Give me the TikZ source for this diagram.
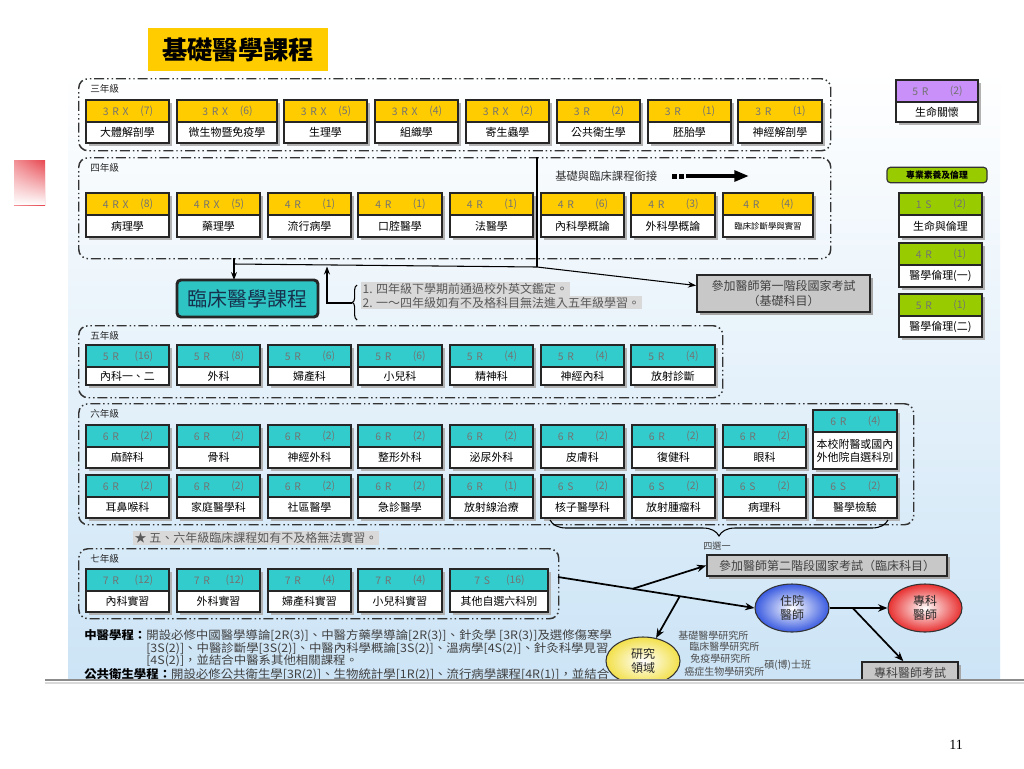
\documentclass[tikz,border=0pt]{standalone}
\usepackage{fontspec}
\setmainfont{Noto Sans CJK TC}
\newfontfamily\numfont{Liberation Serif}
\usetikzlibrary{arrows.meta,decorations.pathreplacing,shapes.geometric,calc,fadings}
\definecolor{cyel}{HTML}{FFCC00}
\definecolor{ccyan}{HTML}{33CCCC}
\definecolor{cpur}{HTML}{C890F8}
\definecolor{cgrn}{HTML}{99CC00}
\definecolor{panelbot}{HTML}{CCE4F6}
\definecolor{clinbg}{HTML}{2EC4C4}
\definecolor{navy}{HTML}{17324D}
\definecolor{hl}{HTML}{D9D9D9}
\definecolor{examg}{HTML}{C8C8C8}
\definecolor{pinkr}{HTML}{E8464F}
\definecolor{resblue}{HTML}{3A5BE0}
\definecolor{specred}{HTML}{E83030}
\definecolor{resyel}{HTML}{F2E04A}
\newcommand{\gp}{\hspace{2.8pt}}
% course box: name, left, top, width, total height, colour, code, count, title
\newcommand{\cbox}[9]{%
  \fill[black!30] ({#2+3},{#3+3}) rectangle ({#2+#4+3},{#3+#5+3});
  \node[cellhead, fill=#6, minimum width={#4*0.75pt}] (#1h) at ({#2+#4/2},{#3+11}) {};
  \node[cellbody, minimum width={#4*0.75pt}, minimum height={(#5-22)*0.75pt}] (#1) at ({#2+#4/2},{#3+22+(#5-22)/2}) {#9};
  \node[codet, anchor=west] (#1c) at ({#2+#4/2-25},{#3+11.5}) {#7};
  \node[codet, anchor=east] (#1n) at ({#2+#4/2+26},{#3+11.5}) {#8};
}
% group frame: name, x1, y1, x2, y2, label
\newcommand{\grpbox}[6]{%
  \node[grpst, minimum width={(#4-#2)*0.75pt}, minimum height={(#5-#3)*0.75pt}, anchor=north west] (#1) at (#2,#3) {};
  \node[glabel] (#1l) at ({#2+12},{#3+11}) {#6};
}
\begin{document}
\begin{tikzpicture}[x=0.75pt,y=-0.75pt,
  cellhead/.style={draw=black!85, line width=0.8pt, inner sep=0pt, minimum height=16.5pt},
  cellbody/.style={draw=black!85, line width=0.8pt, fill=white, inner sep=0pt, align=center, font=\fontsize{8.2}{9.8}\selectfont},
  codet/.style={inner sep=0pt, font=\fontsize{7.8}{9}\selectfont, text=black!55},
  grpst/.style={draw=black!80, line width=1.1pt, rounded corners=7pt, dash pattern=on 7.5pt off 2.2pt on 1.1pt off 2.2pt on 1.1pt off 2.2pt, inner sep=0pt},
  glabel/.style={anchor=west, inner sep=0pt, font=\fontsize{7.2}{8}\selectfont, text=black!85},
  note/.style={anchor=west, fill=hl, inner sep=1pt, font=\fontsize{9}{10}\selectfont, text=black!65},
  exam/.style={draw=black!85, line width=1.5pt, fill=examg, align=center, inner sep=0pt, font=\fontsize{9}{11}\selectfont, text=black!75},
  arr/.style={line width=1.3pt, -{Stealth[length=7pt,width=5.5pt]}},
  conn/.style={line width=0.8pt},
  oval/.style={ellipse, draw=black!80, line width=0.8pt, inner sep=0pt, minimum width=55.5pt, minimum height=36pt, align=center, font=\fontsize{9}{11}\selectfont, text=black!85},
  btext/.style={anchor=west, inner sep=0pt, transform shape, xscale=1.07, font=\fontsize{8.7}{10}\selectfont, text=black!75},
  rlist/.style={anchor=west, inner sep=0pt, font=\fontsize{7.5}{9}\selectfont, text=black!70}
]
\useasboundingbox (0,0) rectangle (1024,768);
\fill[white] (0,0) rectangle (1024,768);

% pink decoration
\shade[left color=pinkr!60!white, right color=pinkr] (14,160) rectangle (45,205);
\fill[white, path fading=north] (14,160) rectangle (45,205);

\begin{scope}
\clip (0,0) rectangle (1024,679.5);
% panel background
\shade[top color=white, bottom color=panelbot] (68,72) rectangle (1000,680);

% title
\node[fill=cyel, minimum width=135pt, minimum height=32pt, inner sep=0pt, font=\fontsize{19}{21}\selectfont\bfseries] (title) at (238,49.5) {基礎醫學課程};

% groups
\grpbox{g3}{78}{78}{830}{150}{三年級}
\grpbox{g4}{78}{157}{830}{258}{四年級}
\grpbox{g5}{78}{325}{722}{397}{五年級}
\grpbox{g6}{78}{403}{913}{524}{六年級}
\grpbox{g7}{78}{548}{558}{618}{七年級}

% third year
\cbox{a1}{86}{100}{83}{43}{cyel}{3\gp R\gp X}{(7)}{大體解剖學}
\cbox{a2}{177}{100}{100}{43}{cyel}{3\gp R\gp X}{(6)}{微生物暨免疫學}
\cbox{a3}{284}{100}{83}{43}{cyel}{3\gp R\gp X}{(5)}{生理學}
\cbox{a4}{375}{100}{83}{43}{cyel}{3\gp R\gp X}{(4)}{組織學}
\cbox{a5}{466}{100}{83}{43}{cyel}{3\gp R\gp X}{(2)}{寄生蟲學}
\cbox{a6}{557}{100}{83}{43}{cyel}{3\gp R}{(2)}{公共衛生學}
\cbox{a7}{648}{100}{83}{43}{cyel}{3\gp R}{(1)}{胚胎學}
\cbox{a8}{738}{100}{84}{43}{cyel}{3\gp R}{(1)}{神經解剖學}

% fourth year
\node[anchor=west, inner sep=0pt, font=\fontsize{8.5}{10}\selectfont, text=black!80] (link) at (555,176) {基礎與臨床課程銜接};
\fill[black] (672,173.5) rectangle (677,178.5);
\fill[black] (679,173.5) rectangle (684,178.5);
\coordinate (lnkS) at (686,176);
\coordinate (lnkE) at (749,176);
\draw[line width=3pt, -{Triangle[length=11pt,width=8pt]}] (lnkS) -- (lnkE);

\cbox{b1}{86}{193}{83}{44}{cyel}{4\gp R\gp X}{(8)}{病理學}
\cbox{b2}{177}{193}{83}{44}{cyel}{4\gp R\gp X}{(5)}{藥理學}
\cbox{b3}{268}{193}{83}{44}{cyel}{4\gp R}{(1)}{流行病學}
\cbox{b4}{358}{193}{84}{44}{cyel}{4\gp R}{(1)}{口腔醫學}
\cbox{b5}{450}{193}{83}{44}{cyel}{4\gp R}{(1)}{法醫學}
\cbox{b6}{541}{193}{83}{44}{cyel}{4\gp R}{(6)}{內科學概論}
\cbox{b7}{631}{193}{84}{44}{cyel}{4\gp R}{(3)}{外科學概論}
\cbox{b8}{723}{193}{90}{44}{cyel}{4\gp R}{(4)}{\fontsize{6.3}{7}\selectfont 臨床診斷學與實習}

% connectors from the fourth year
\coordinate (jt) at (537,157);
\coordinate (jb) at (537,267);
\coordinate (jl) at (234,264);
\coordinate (gl) at (234,258);
\coordinate (cl) at (234,280);
\draw[conn] (jt) -- (jb);
\fill[black!35] (700,278) rectangle (873,315);
\node[exam, minimum width=129.75pt, minimum height=27.75pt] (exam1) at (783.5,293.5) {參加醫師第一階段國家考試\\（基礎科目）};
\draw[conn, -{Stealth[length=6pt,width=4.5pt]}] (jl) -- (jb) -- ([yshift=6pt]exam1.west);
\draw[conn, -{Stealth[length=6pt,width=4.5pt]}] (gl) -- (cl);

% clinical course title
\node[fill=clinbg, draw=black!85, line width=2.2pt, rounded corners=3pt, minimum width=105.75pt, minimum height=27.75pt, inner sep=0pt, font=\fontsize{15}{17}\selectfont, text=navy] (clin) at (247.5,298.5) {臨床醫學課程};

% notes
\node[note] (n1) at (361,289) {1. 四年級下學期前通過校外英文鑑定。};
\node[note] (n2) at (361,302.5) {2. 一～四年級如有不及格科目無法進入五年級學習。};
\draw[conn, decorate, decoration={brace, amplitude=3.5pt}] (357,320) -- (357,285);
\coordinate (bt) at (352,303);
\coordinate (up) at (327,266.5);
\draw[conn, -{Stealth[length=6pt,width=4.5pt]}] (bt) -| (up);

% fifth year
\cbox{c1}{86}{345}{83}{40}{ccyan}{5\gp R}{(16)}{內科一、二}
\cbox{c2}{177}{345}{83}{40}{ccyan}{5\gp R}{(8)}{外科}
\cbox{c3}{268}{345}{83}{40}{ccyan}{5\gp R}{(6)}{婦產科}
\cbox{c4}{358}{345}{84}{40}{ccyan}{5\gp R}{(6)}{小兒科}
\cbox{c5}{450}{345}{83}{40}{ccyan}{5\gp R}{(4)}{精神科}
\cbox{c6}{541}{345}{83}{40}{ccyan}{5\gp R}{(4)}{神經內科}
\cbox{c7}{631}{345}{84}{40}{ccyan}{5\gp R}{(4)}{放射診斷}

% sixth year
\cbox{d1}{86}{425}{83}{43}{ccyan}{6\gp R}{(2)}{麻醉科}
\cbox{d2}{177}{425}{83}{43}{ccyan}{6\gp R}{(2)}{骨科}
\cbox{d3}{268}{425}{83}{43}{ccyan}{6\gp R}{(2)}{神經外科}
\cbox{d4}{358}{425}{84}{43}{ccyan}{6\gp R}{(2)}{整形外科}
\cbox{d5}{450}{425}{83}{43}{ccyan}{6\gp R}{(2)}{泌尿外科}
\cbox{d6}{541}{425}{83}{43}{ccyan}{6\gp R}{(2)}{皮膚科}
\cbox{d7}{632}{425}{83}{43}{ccyan}{6\gp R}{(2)}{復健科}
\cbox{d8}{723}{425}{83}{43}{ccyan}{6\gp R}{(2)}{眼科}
\cbox{d9}{813}{410}{84}{59}{ccyan}{6\gp R}{(4)}{本校附醫或國內\\外他院自選科別}
\cbox{e1}{86}{475}{83}{43}{ccyan}{6\gp R}{(2)}{耳鼻喉科}
\cbox{e2}{177}{475}{83}{43}{ccyan}{6\gp R}{(2)}{家庭醫學科}
\cbox{e3}{268}{475}{83}{43}{ccyan}{6\gp R}{(2)}{社區醫學}
\cbox{e4}{358}{475}{84}{43}{ccyan}{6\gp R}{(2)}{急診醫學}
\cbox{e5}{450}{475}{83}{43}{ccyan}{6\gp R}{(1)}{放射線治療}
\cbox{e6}{541}{475}{83}{43}{ccyan}{6\gp S}{(2)}{核子醫學科}
\cbox{e7}{632}{475}{83}{43}{ccyan}{6\gp S}{(2)}{放射腫瘤科}
\cbox{e8}{723}{475}{83}{43}{ccyan}{6\gp S}{(2)}{病理科}
\cbox{e9}{813}{475}{84}{43}{ccyan}{6\gp S}{(2)}{醫學檢驗}

\draw[conn, decorate, decoration={brace, amplitude=12pt}] (888,520) -- (550,520);
\node[inner sep=0pt, font=\fontsize{6.8}{8}\selectfont, text=black!75] (pick) at (717,546) {四選一};
\node[note, font=\fontsize{9}{10}\selectfont] (star) at (133,538) {★ 五、六年級臨床課程如有不及格無法實習。};

% seventh year
\cbox{f1}{86}{569}{83}{43}{ccyan}{7\gp R}{(12)}{內科實習}
\cbox{f2}{177}{569}{83}{43}{ccyan}{7\gp R}{(12)}{外科實習}
\cbox{f3}{268}{569}{83}{43}{ccyan}{7\gp R}{(4)}{婦產科實習}
\cbox{f4}{358}{569}{84}{43}{ccyan}{7\gp R}{(4)}{小兒科實習}
\cbox{f5}{450}{569}{98}{43}{ccyan}{7\gp S}{(16)}{其他自選六科別}

% right column
\cbox{r1}{896}{80}{82}{42}{cpur}{5\gp R}{(2)}{生命關懷}
\node[draw=black!80, fill=cgrn, line width=0.9pt, rounded corners=2.5pt, minimum width=75pt, minimum height=11.5pt, inner sep=0pt, font=\fontsize{6.6}{8}\selectfont\bfseries] (ghead) at (937,175) {專業素養及倫理};
\cbox{r2}{899}{193}{83}{44}{cgrn}{1\gp S}{(2)}{生命與倫理}
\cbox{r3}{899}{243}{83}{44}{cgrn}{4\gp R}{(1)}{醫學倫理(一)}
\cbox{r4}{899}{294}{83}{43}{cgrn}{5\gp R}{(1)}{醫學倫理(二)}

% bottom text
\node[btext] (t1) at (84,636) {{\bfseries\color{black}中醫學程：}開設必修中國醫學導論[2R(3)]、中醫方藥學導論[2R(3)]、針灸學 [3R(3)]及選修傷寒學};
\node[btext] (t2) at (146,648.5) {[3S(2)]、中醫診斷學[3S(2)]、中醫內科學概論[3S(2)]、溫病學[4S(2)]、針灸科學見習};
\node[btext] (t3) at (146,661) {[4S(2)]，並結合中醫系其他相關課程。};
\node[btext] (t4) at (84,675) {{\bfseries\color{black}公共衛生學程：}開設必修公共衛生學[3R(2)]、生物統計學[1R(2)]、流行病學課程[4R(1)]，並結合};

% career paths
\fill[black!35] (709,557) rectangle (950,579);
\node[exam, line width=1.3pt, minimum width=180pt, minimum height=15.75pt] (exam2) at (827,565.5) {參加醫師第二階段國家考試（臨床科目）};
\node[oval, shade, inner color=white, outer color=resblue] (resid) at (792,608) {住院\\醫師};
\node[oval, shade, inner color=white, outer color=specred] (spec) at (925,608) {專科\\醫師};
\node[oval, shade, inner color=white, outer color=resyel] (research) at (643,661) {研究\\領域};
\fill[black!35] (865,665) rectangle (961,690);
\node[exam, line width=1.3pt, minimum width=72pt, minimum height=16.5pt] (specexam) at (910,673) {專科醫師考試};

\coordinate (m0) at (558,577);
\coordinate (p1) at ($(m0)!0.38!(resid.west)$);
\coordinate (p2) at ($(m0)!0.62!(resid.west)$);
\coordinate (p3) at ($(resid.east)!0.4!(spec.west)$);
\draw[arr] (m0) -- (resid.west);
\draw[arr] (p1) -- (exam2.west);
\draw[arr] (p2) -- (research);
\draw[arr] (resid.east) -- (spec.west);
\draw[arr] (p3) -- ([xshift=-5pt]specexam.north);

\node[rlist] (l1) at (678,636) {基礎醫學研究所};
\node[rlist] (l2) at (689,647) {臨床醫學研究所};
\node[rlist] (l3) at (690,659) {免疫學研究所};
\node[rlist] (l4) at (684,672) {癌症生物學研究所};
\node[rlist] (l5) at (764,665) {碩(博)士班};
\end{scope}

% bottom rule and page number
\draw[black!15, line width=1.5pt] (45,682.5) -- (1024,682.5);
\draw[black!45, line width=1.2pt] (45,680) -- (1024,680);
\node[inner sep=0pt, font=\numfont\fontsize{10.5}{12}\selectfont] (pg) at (956,745) {11};
\end{tikzpicture}
\end{document}
